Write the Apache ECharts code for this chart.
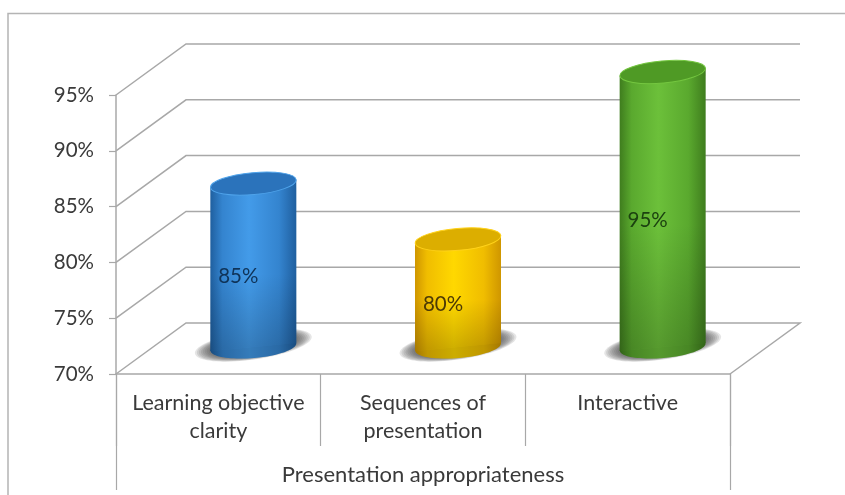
<!DOCTYPE html>
<html>
<head>
<meta charset="utf-8">
<script src="https://cdn.jsdelivr.net/npm/echarts@6/dist/echarts.min.js"></script>
<style>
html,body{margin:0;padding:0;background:#fff;}
#c{width:845px;height:495px;filter:blur(0.4px);}
</style>
</head>
<body>
<div id="c"></div>
<script>
var categories = ['Learning objective\nclarity', 'Sequences of\npresentation', 'Interactive'];
var groupLabel = ['Presentation appropriateness'];
var values = [85, 80, 95];
var yTicks = [70, 75, 80, 85, 90, 95];
var mainColors = ['#439be9', '#ffd800', '#6cc03a'];
var midColors = ['#3484cf', '#f0bd00', '#5aa92e'];
var edgeColors = ['#1f5f9f', '#cf9600', '#3f7d1e'];
var capColors = ['#2b73bb', '#dcae00', '#4f9a25'];
var rimColors = ['#4fa3ea', '#ffd21a', '#74c640'];
var labelColors = ['#0f3358', '#4d3a05', '#1c4210'];

var LINE = '#a8a8a8';
var TEXT = '#3a3a3a';
var FONT = 'Lato, "Open Sans", sans-serif';
var WALL_DX = 70, WALL_DY = 51;
var BAR_DX = 35, TOP_DY = 23, BASE_DY = 27;
var RX = 43, RY = 11, TILT = 0.09;
var SHADOW_STEPS = [16, 14, 12, 10, 8, 6, 4, 2];

function wall(params, api) {
  var cs = params.coordSys;
  var y = api.coord([0, api.value(0)])[1];
  var x0 = cs.x, x1 = cs.x + cs.width;
  var pts = [[x0, y], [x0 + WALL_DX, y - WALL_DY], [x1 + WALL_DX, y - WALL_DY]];
  if (api.value(0) === yTicks[0]) pts.push([x1, y]);
  return {
    type: 'polyline',
    shape: { points: pts },
    style: { fill: null, stroke: LINE, lineWidth: 1.5 }
  };
}

function cylinder(params, api) {
  var i = api.value(0);
  var top = api.coord([i, api.value(1)]);
  var base = api.coord([i, yTicks[0]]);
  var mid = api.coord([i, (api.value(1) + yTicks[0]) / 2]);
  var cx = top[0] + BAR_DX;
  var ty = top[1] - TOP_DY;
  var by = base[1] - BASE_DY;
  var lift = RX * Math.tan(TILT);
  function h() {
    return new echarts.graphic.LinearGradient(0, 0, 1, 0, [
      { offset: 0, color: edgeColors[i] },
      { offset: 0.14, color: midColors[i] },
      { offset: 0.45, color: mainColors[i] },
      { offset: 0.8, color: midColors[i] },
      { offset: 1, color: edgeColors[i] }
    ]);
  }
  function v() {
    return new echarts.graphic.LinearGradient(0, 0, 0, 1, [
      { offset: 0, color: 'rgba(0,0,0,0)' },
      { offset: 0.55, color: 'rgba(0,0,0,0)' },
      { offset: 1, color: 'rgba(0,0,0,0.2)' }
    ]);
  }
  var bodyPts = [[cx - RX, ty + lift], [cx + RX, ty - lift], [cx + RX, by - lift], [cx - RX, by + lift]];
  var shadows = SHADOW_STEPS.map(function (s) {
    return { type: 'ellipse', x: cx, y: by - 2, rotation: TILT * 1.6,
      shape: { cx: 0, cy: 0, rx: RX + s, ry: RY + s * 0.22 },
      style: { fill: 'rgba(70,70,70,0.14)' } };
  });
  return {
    type: 'group',
    children: shadows.concat([
      { type: 'ellipse', x: cx, y: by, rotation: TILT,
        shape: { cx: 0, cy: 0, rx: RX, ry: RY },
        style: { fill: h() } },
      { type: 'ellipse', x: cx, y: by, rotation: TILT,
        shape: { cx: 0, cy: 0, rx: RX, ry: RY },
        style: { fill: 'rgba(0,0,0,0.2)' } },
      { type: 'polygon', shape: { points: bodyPts }, style: { fill: h() } },
      { type: 'polygon', shape: { points: bodyPts }, style: { fill: v() } },
      { type: 'ellipse', x: cx, y: ty, rotation: TILT,
        shape: { cx: 0, cy: 0, rx: RX, ry: RY },
        style: { fill: capColors[i], stroke: rimColors[i], lineWidth: 1 } },
      { type: 'text', x: mid[0] + 20, y: mid[1] - 14,
        style: { text: api.value(1) + '%', fill: labelColors[i], font: '20.5px ' + FONT,
          align: 'center', verticalAlign: 'middle' } }
    ])
  };
}

var chart = echarts.init(document.getElementById('c'), null, { renderer: 'canvas' });
chart.setOption({
  animation: false,
  backgroundColor: '#fff',
  graphic: [{
    type: 'polyline', silent: true,
    shape: { points: [[8, 495], [8, 13.5], [845, 13.5]] },
    style: { fill: null, stroke: '#b4b4b4', lineWidth: 1.5 }
  }],
  grid: { left: 116, right: 115, top: 95, bottom: 121 },
  xAxis: [{
    type: 'category', data: categories, position: 'bottom',
    axisLine: { show: true, lineStyle: { color: LINE, width: 1.5 } },
    axisTick: { show: true, length: 72, lineStyle: { color: LINE, width: 1.2 } },
    axisLabel: { color: TEXT, fontFamily: FONT, fontSize: 21.5, lineHeight: 28, margin: 15, interval: 0 }
  }, {
    type: 'category', data: groupLabel, position: 'bottom',
    axisLine: { show: false },
    axisTick: { show: true, length: 116, lineStyle: { color: LINE, width: 1.2 } },
    axisLabel: { color: TEXT, fontFamily: FONT, fontSize: 22, margin: 90 }
  }],
  yAxis: {
    type: 'value', min: 70, max: 95, interval: 5,
    splitLine: { show: false },
    axisLine: { show: true, lineStyle: { color: LINE, width: 1.5 } },
    axisTick: { show: true, length: 7, lineStyle: { color: LINE, width: 1.2 } },
    axisLabel: { formatter: '{value}%', color: TEXT, fontFamily: FONT, fontSize: 20.5, margin: 22, padding: [7, 0, 0, 0] }
  },
  series: [{
    type: 'custom', name: 'walls', xAxisIndex: 0, yAxisIndex: 0, z: 1, silent: true,
    renderItem: wall, data: yTicks.map(function (t) { return [t]; }),
    encode: { y: 0 }
  }, {
    type: 'custom', name: 'Presentation appropriateness', xAxisIndex: 0, yAxisIndex: 0, z: 2, silent: true,
    renderItem: cylinder, data: values.map(function (v, i) { return [i, v]; }),
    encode: { x: 0, y: 1 }
  }]
});
</script>
</body>
</html>
